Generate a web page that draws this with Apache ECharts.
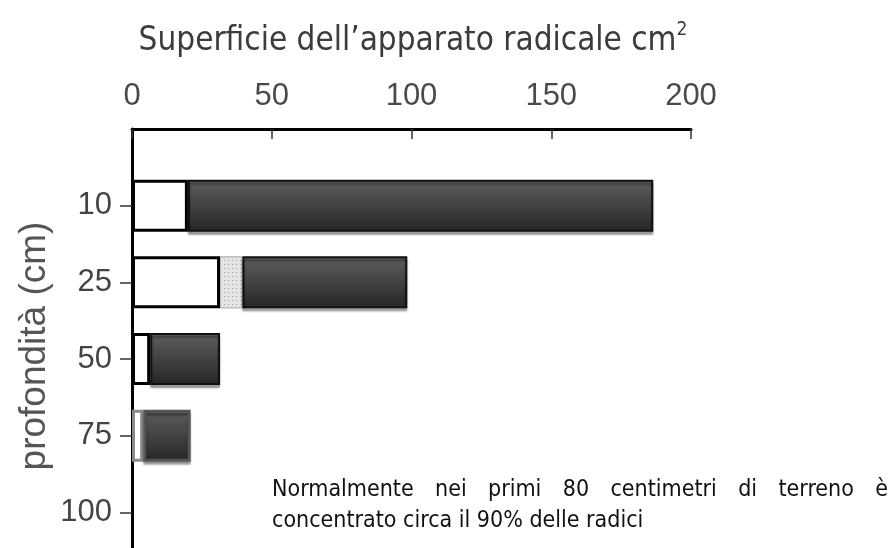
<!DOCTYPE html>
<html lang="it">
<head>
<meta charset="UTF-8">
<title>Superficie dell'apparato radicale</title>
<script src="https://cdn.jsdelivr.net/npm/echarts@6/dist/echarts.min.js"></script>
<style>
  html, body { margin: 0; padding: 0; background: #fff; }
  #main { width: 890px; height: 548px; }
</style>
</head>
<body>
<div id="main"></div>
<script>
// profondità (cm) e superficie radicale (cm2)
var depths = ['10', '25', '50', '75', '100'];
var whitePart = [20, 31.5, 6.5, 4, 0];
var dottedPart = [0, 8, 0, 0, 0];
var darkPart = [166.5, 59, 25, 17, 0];

var textFont = "'DejaVu Sans Condensed', 'DejaVu Sans', sans-serif";
var numFont = "'Liberation Sans', Arial, sans-serif";

// categoria vuota sopra e sotto per lasciare spazio tra asse e prime barre
var yData = [''].concat(depths, ['']);
function pad(arr, fadedStyle) {
    var out = arr.map(function (v, i) {
        if (!v) return '-';
        // la barra a 75 cm è stampata più sbiadita
        if (fadedStyle && depths[i] === '75') return { value: v, itemStyle: fadedStyle };
        return v;
    });
    return ['-'].concat(out, ['-']);
}

var darkGrad = new echarts.graphic.LinearGradient(0, 0, 0, 1, [
    { offset: 0, color: '#5e5e5e' },
    { offset: 1, color: '#262626' }
]);

var myChart = echarts.init(document.getElementById('main'));

// testo giustificato della nota
var note1 = 'Normalmente nei primi 80 centimetri di terreno è'.split(' ');
var note2 = 'concentrato circa il 90% delle radici';
var noteSize = 23;
var ctx = document.createElement('canvas').getContext('2d');
ctx.font = noteSize + 'px ' + textFont;
var wordsW = note1.reduce(function (s, w) { return s + ctx.measureText(w).width; }, 0);
var gap = (888 - 272 - wordsW) / (note1.length - 1);
var noteEls = [];
var cx = 272;
note1.forEach(function (w) {
    noteEls.push({
        type: 'text', x: cx, y: 490,
        style: { text: w, fill: '#111', fontSize: noteSize, fontFamily: textFont, verticalAlign: 'middle' }
    });
    cx += ctx.measureText(w).width + gap;
});
noteEls.push({
    type: 'text', x: 272, y: 521,
    style: { text: note2, fill: '#111', fontSize: noteSize, fontFamily: textFont, verticalAlign: 'middle' }
});

var option = {
    animation: false,
    grid: { left: 132, width: 559, top: 129, height: 460, outerBoundsMode: 'none', containLabel: false },
    xAxis: {
        type: 'value',
        position: 'top',
        min: 0,
        max: 200,
        interval: 50,
        axisLine: { show: true, lineStyle: { color: '#000', width: 3 } },
        axisTick: { show: true, inside: true, length: 10, lineStyle: { color: '#333', width: 1.5 } },
        splitLine: { show: false },
        axisLabel: { margin: 17, color: '#4a4a4a', fontSize: 31, fontFamily: numFont }
    },
    yAxis: {
        type: 'category',
        inverse: true,
        boundaryGap: false,
        data: yData,
        axisLine: { show: true, lineStyle: { color: '#000', width: 3 } },
        axisTick: {
            show: true, length: 12, lineStyle: { color: '#333', width: 1.5 },
            interval: function (i, v) { return v !== ''; }
        },
        axisLabel: { margin: 20, color: '#444', fontSize: 31, fontFamily: numFont, interval: 0 }
    },
    series: [
        {
            name: 'bianco', type: 'bar', stack: 'tot', barWidth: 52,
            data: pad(whitePart, { borderColor: '#8a8a8a', borderWidth: 3 }),
            itemStyle: { color: '#fff', borderColor: '#000', borderWidth: 3 }
        },
        {
            name: 'puntinato', type: 'bar', stack: 'tot', barWidth: 52,
            data: pad(dottedPart),
            itemStyle: {
                color: '#e4e4e4', borderColor: '#bbb', borderWidth: 1,
                decal: { symbol: 'rect', symbolSize: 1, color: '#a0a0a0', dashArrayX: [1, 3], dashArrayY: [1, 3] }
            }
        },
        {
            name: 'scuro', type: 'bar', stack: 'tot', barWidth: 52,
            data: pad(darkPart, { borderColor: '#555', borderWidth: 3 }),
            itemStyle: {
                color: darkGrad, borderColor: '#111', borderWidth: 2,
                shadowColor: 'rgba(0,0,0,0.35)', shadowOffsetY: 3, shadowBlur: 2
            }
        }
    ],
    graphic: [
        {
            type: 'text', x: 413, y: 41,
            style: {
                text: '{t|Superficie dell’apparato radicale cm}{s|2}',
                align: 'center', verticalAlign: 'middle',
                rich: {
                    t: { fontSize: 33, lineHeight: 40, fontFamily: textFont, fill: '#3c3c3c' },
                    s: { fontSize: 19, lineHeight: 19, verticalAlign: 'top', fontFamily: textFont, fill: '#3c3c3c' }
                }
            }
        },
        {
            type: 'text', x: 35, y: 346, rotation: Math.PI / 2,
            style: {
                text: 'profondità (cm)', fill: '#555', fontSize: 37, fontFamily: numFont,
                align: 'center', verticalAlign: 'middle'
            }
        }
    ].concat(noteEls)
};
myChart.setOption(option);
</script>
</body>
</html>
